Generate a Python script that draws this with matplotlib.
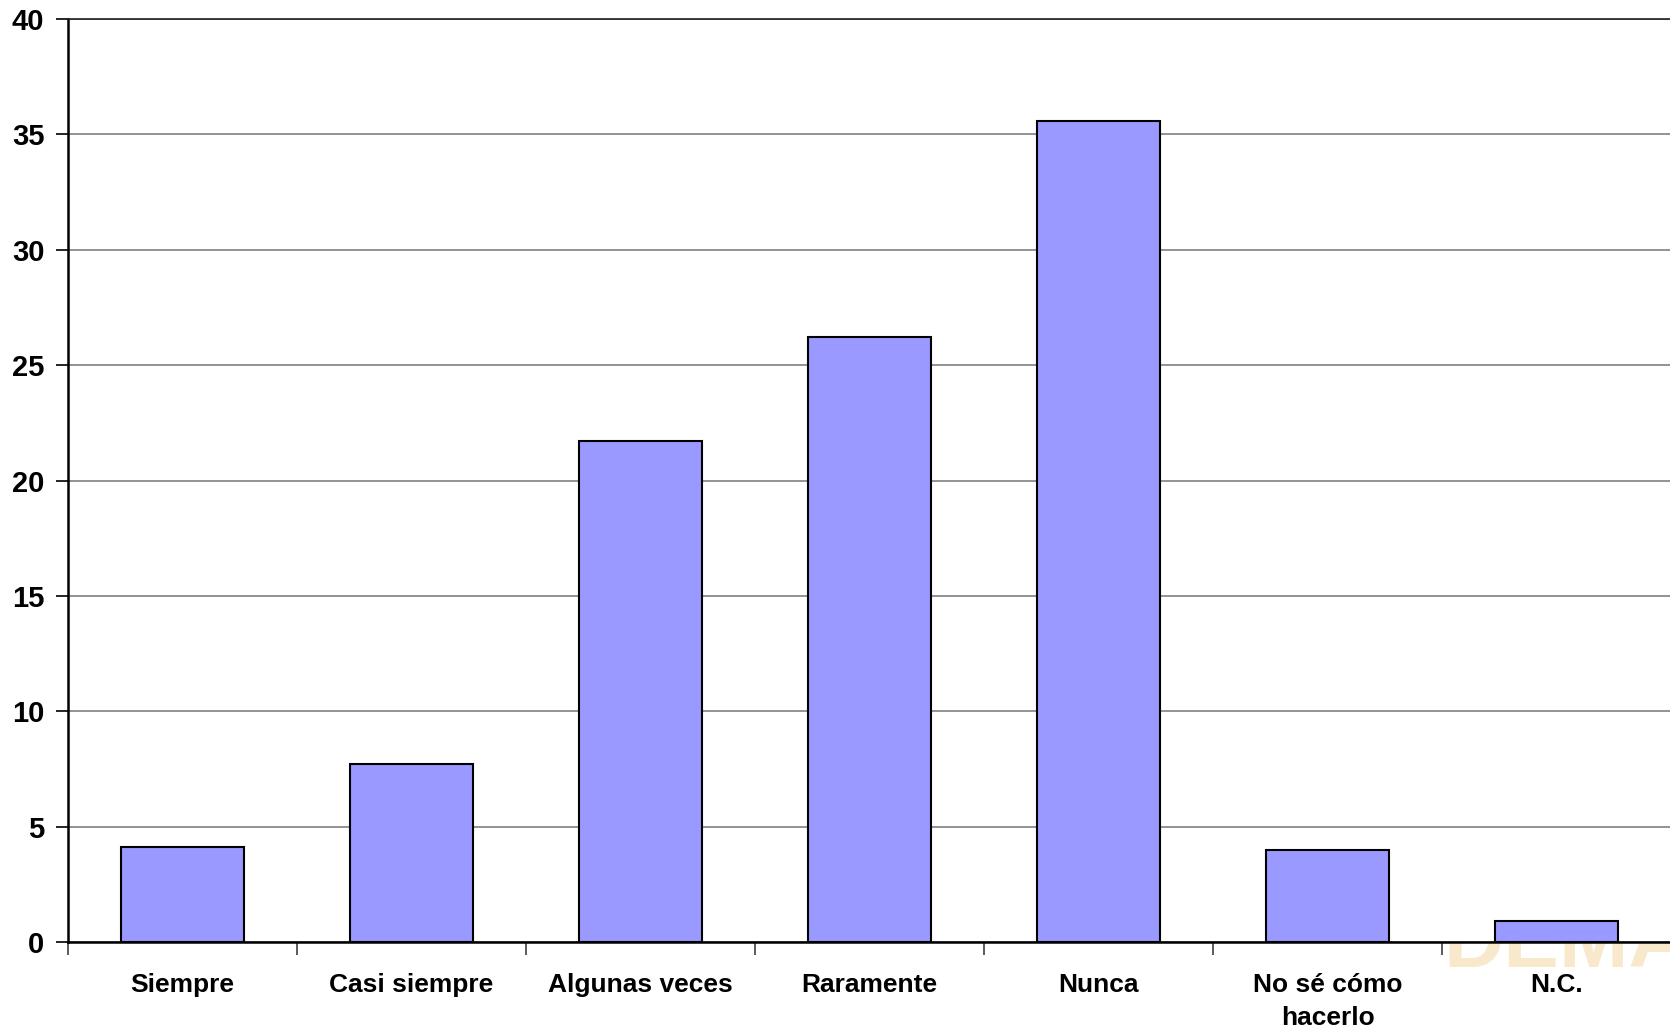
import numpy as np
import matplotlib.pyplot as plt

# datos de la encuesta (%)
categorias = ["Siempre", "Casi siempre", "Algunas veces", "Raramente",
              "Nunca", "No sé cómo\nhacerlo", "N.C."]
valores = [4.1, 7.7, 21.7, 26.2, 35.6, 4.0, 0.9]
y_ticks = [0, 5, 10, 15, 20, 25, 30, 35, 40]

plt.rcParams["font.family"] = ["Liberation Sans", "DejaVu Sans"]

fig = plt.figure(figsize=(16.7, 10.3), dpi=100)
ax = fig.add_axes([68 / 1670, 1 - 942 / 1030, 1603 / 1670, 923 / 1030])

# marca de agua, tapada en parte por el fondo blanco del área
fig.text(1443 / 1670, 1 - 967 / 1030, "DEMA", fontsize=60, fontweight="bold",
         color="#F8E9CC", ha="left", va="baseline", zorder=-1)

x = np.arange(len(categorias))
ax.bar(x, valores, width=0.533, color="#9999FF", edgecolor="black",
       linewidth=1.5, zorder=3)

ax.set_xlim(-0.5, len(categorias) - 0.5)
ax.set_ylim(0, 40)
ax.set_yticks(y_ticks)
ax.set_yticklabels([str(v) for v in y_ticks], fontsize=21, fontweight="bold")
ax.yaxis.grid(True, color="#808080", linewidth=1.2, zorder=0)
ax.set_axisbelow(True)

# ticks del eje x entre categorías, etiquetas en el centro
ax.set_xticks(np.arange(len(categorias) + 1) - 0.5)
ax.set_xticklabels([])
ax.set_xticks(x, minor=True)
ax.set_xticklabels(categorias, minor=True, fontsize=19, fontweight="bold",
                   linespacing=1.5)
ax.tick_params(axis="x", which="minor", length=0, pad=22)
ax.tick_params(axis="x", which="major", length=9, width=1.2, color="#404040")
ax.tick_params(axis="y", length=9, width=1.2, pad=8)

ax.spines["right"].set_visible(False)
ax.spines["top"].set_color("#202020")
ax.spines["top"].set_linewidth(1.2)
ax.spines["left"].set_linewidth(1.8)
ax.spines["bottom"].set_linewidth(1.8)

fig.savefig("out.png", dpi=100)
